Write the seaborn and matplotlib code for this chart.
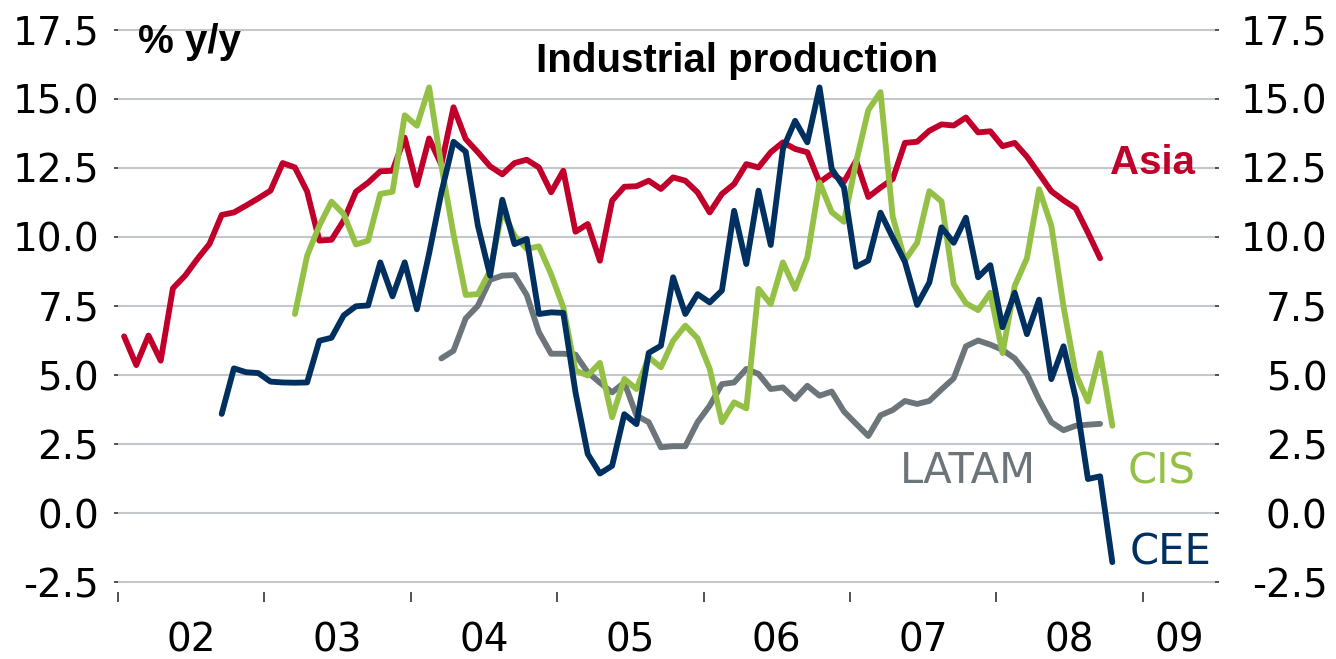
import numpy as np
import pandas as pd
import matplotlib
matplotlib.use("Agg")
import matplotlib.pyplot as plt
import seaborn as sns
from matplotlib.ticker import FixedLocator, FixedFormatter, NullFormatter

# ---------------- data (monthly, % y/y) ----------------
# start = month index counted from Jan 2002
asia_start = 0
asia = [6.40, 5.36, 6.43, 5.52, 8.14, 8.60, 9.20, 9.75, 10.80, 10.89, 11.14, 11.40,
        11.68, 12.68, 12.52, 11.65, 9.87, 9.90, 10.60, 11.64, 11.97, 12.38, 12.40, 13.60,
        11.88, 13.57, 12.62, 14.70, 13.55, 13.07, 12.56, 12.27, 12.68, 12.80, 12.52, 11.62,
        12.40, 10.19, 10.47, 9.14, 11.32, 11.82, 11.84, 12.04, 11.74, 12.16, 12.04, 11.62,
        10.89, 11.56, 11.92, 12.64, 12.52, 13.07, 13.43, 13.19, 13.07, 11.98, 12.30, 12.00,
        12.76, 11.45, 11.79, 12.10, 13.41, 13.45, 13.85, 14.08, 14.04, 14.33, 13.79, 13.83,
        13.29, 13.41, 12.91, 12.29, 11.66, 11.33, 11.04, 10.16, 9.23]

cis_start = 14
cis = [7.21, 9.32, 10.41, 11.28, 10.83, 9.73, 9.87, 11.56, 11.64, 14.41,
       14.03, 15.42, 12.60, 10.10, 7.90, 7.93, 8.78, 10.95, 10.05, 9.57, 9.66, 8.65,
       7.45, 5.16, 4.98, 5.44, 3.47, 4.86, 4.49, 5.64, 5.28, 6.24, 6.79, 6.33,
       5.22, 3.29, 4.01, 3.79, 8.12, 7.57, 9.08, 8.12, 9.26, 11.98, 10.90, 10.55,
       12.72, 14.60, 15.25, 10.73, 9.16, 9.79, 11.66, 11.29, 8.29, 7.60, 7.35, 7.98,
       5.79, 8.23, 9.23, 11.73, 10.41, 7.48, 5.04, 4.04, 5.79, 3.16]

cee_start = 8
cee = [3.59, 5.24, 5.10, 5.07,
       4.76, 4.73, 4.72, 4.73, 6.24, 6.35, 7.16, 7.49, 7.52, 9.08, 7.85, 9.08,
       7.38, 9.40, 11.60, 13.45, 13.09, 10.41, 8.60, 11.35, 9.74, 9.93, 7.21, 7.27,
       7.25, 4.37, 2.14, 1.43, 1.71, 3.58, 3.22, 5.80, 6.06, 8.54, 7.21, 7.93,
       7.63, 8.06, 10.95, 9.02, 11.68, 9.71, 13.19, 14.21, 13.43, 15.42, 12.47, 11.80,
       8.92, 9.15, 10.88, 9.98, 9.10, 7.54, 8.35, 10.35, 9.79, 10.70, 8.54, 8.98,
       6.73, 7.98, 6.48, 7.73, 4.85, 6.04, 4.16, 1.23, 1.33, -1.78]

latam_start = 26
latam = [5.60, 5.88, 7.05, 7.51, 8.45, 8.60, 8.62, 7.90, 6.55, 5.77,
         5.77, 5.74, 5.10, 4.72, 4.37, 4.73, 3.53, 3.29, 2.38, 2.42, 2.42, 3.29,
         3.89, 4.67, 4.73, 5.22, 5.04, 4.49, 4.55, 4.13, 4.61, 4.25, 4.40, 3.68,
         3.23, 2.79, 3.54, 3.73, 4.06, 3.95, 4.06, 4.48, 4.88, 6.04, 6.25, 6.10,
         5.91, 5.60, 5.04, 4.10, 3.29, 3.00, 3.16, 3.20, 3.23]

years = [2002, 2003, 2004, 2005, 2006, 2007, 2008, 2009]
year_labels = ["02", "03", "04", "05", "06", "07", "08", "09"]
y_ticks = [-2.5, 0.0, 2.5, 5.0, 7.5, 10.0, 12.5, 15.0, 17.5]

colors = {"Asia": "#C0002B", "CIS": "#94C145", "CEE": "#00305F", "LATAM": "#6C757A"}

# ---------------- long table ----------------
frames = []
for name, start, vals in [("LATAM", latam_start, latam), ("Asia", asia_start, asia),
                          ("CIS", cis_start, cis), ("CEE", cee_start, cee)]:
    idx = np.arange(len(vals)) + start
    frames.append(pd.DataFrame({"x": 2002 + (idx + 0.5) / 12.0,
                                "value": vals, "series": name}))
df = pd.concat(frames, ignore_index=True)

# ---------------- figure ----------------
sns.set_theme(style="white")
plt.rcParams["font.family"] = ["Liberation Sans", "DejaVu Sans"]
plt.rcParams["axes.unicode_minus"] = False
plt.rcParams["text.color"] = "black"

fig = plt.figure(figsize=(13.36, 6.59), dpi=100)
ax = fig.add_axes([0.08832, 0.10167, 0.82111, 0.85584])

sns.lineplot(data=df, x="x", y="value", hue="series",
             hue_order=["LATAM", "Asia", "CIS", "CEE"], palette=colors,
             linewidth=4.2, legend=False, estimator=None, sort=False, ax=ax)

xmax = 2009.493
ax.set_xlim(2002, xmax)
ax.set_ylim(-2.862, 17.572)
ax.set_xlabel("")
ax.set_ylabel("")

for s in ax.spines.values():
    s.set_visible(False)

tick_font = ["DejaVu Sans"]

# y grid / ticks
ax.yaxis.set_major_locator(FixedLocator(y_ticks))
ax.yaxis.set_major_formatter(FixedFormatter([f"{v:.1f}" for v in y_ticks]))
ax.yaxis.grid(True, color="#C4C8CC", linewidth=1.5)
ax.xaxis.grid(False)
ax.set_axisbelow(True)
ax.tick_params(axis="y", which="major", left=True, length=3, width=1.2,
               color="#333333", pad=10.5, labelsize=28, labelcolor="black")
for lab in ax.get_yticklabels():
    lab.set_family(tick_font)

# x ticks at year boundaries, labels centred on the visible part of each year
mids = [(y + min(y + 1, xmax)) / 2 for y in years]
ax.xaxis.set_major_locator(FixedLocator(years))
ax.xaxis.set_major_formatter(NullFormatter())
ax.xaxis.set_minor_locator(FixedLocator(mids))
ax.xaxis.set_minor_formatter(FixedFormatter(year_labels))
ax.tick_params(axis="x", which="major", bottom=True, length=7, width=1.2,
               color="#333333", direction="out")
ax.tick_params(axis="x", which="minor", bottom=True, length=0, pad=21,
               labelsize=28, labelcolor="black")
for lab in ax.get_xticklabels(minor=True):
    lab.set_family(tick_font)

# right-hand axis copy
ax2 = ax.twinx()
ax2.set_ylim(ax.get_ylim())
for s in ax2.spines.values():
    s.set_visible(False)
ax2.yaxis.set_major_locator(FixedLocator(y_ticks))
ax2.yaxis.set_major_formatter(FixedFormatter([f"{v:.1f}" for v in y_ticks]))
ax2.tick_params(axis="y", which="major", right=True, length=3, width=1.2,
                color="#333333", pad=78, labelsize=28, labelcolor="black")
for lab in ax2.get_yticklabels():
    lab.set_horizontalalignment("right")
    lab.set_family(tick_font)
ax2.grid(False)

# series labels
ax.text(2008.776, 12.28, "Asia", color=colors["Asia"], fontsize=29,
        fontweight="bold", ha="left", va="baseline")
ax.text(2007.341, 1.087, "LATAM", color=colors["LATAM"], fontsize=30,
        ha="left", va="baseline", family=tick_font)
ax.text(2008.899, 1.087, "CIS", color=colors["CIS"], fontsize=30,
        ha="left", va="baseline", family=tick_font)
ax.text(2008.913, -1.848, "CEE", color=colors["CEE"], fontsize=30,
        ha="left", va="baseline", family=tick_font)

fig.text(737 / 1336, 1 - 72 / 659, "Industrial production", ha="center",
         va="baseline", fontsize=29, fontweight="bold", color="black")
fig.text(138 / 1336, 1 - 53 / 659, "% y/y", ha="left", va="baseline",
         fontsize=29, fontweight="bold", color="black")

fig.savefig("out.png", dpi=100)
